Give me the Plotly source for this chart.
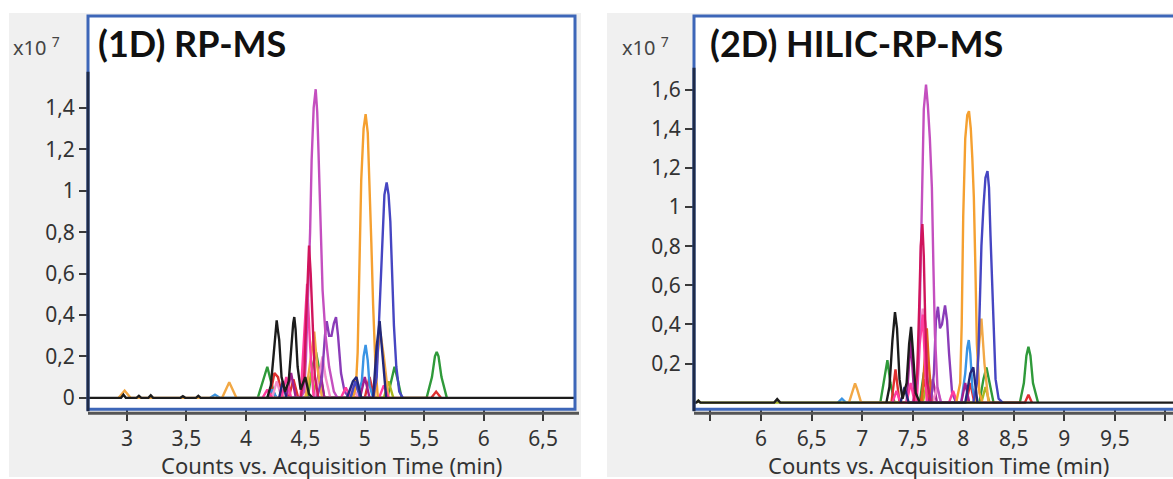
import plotly.graph_objects as go

W, H = 1173, 479

# ---------------- data: (1D) RP-MS panel (time in min, counts in 1e7) ----------------
rp_x_ticks = [3, 3.5, 4, 4.5, 5, 5.5, 6, 6.5]
rp_x_labels = ["3", "3,5", "4", "4,5", "5", "5,5", "6", "6,5"]
rp_y_ticks = [0, 0.2, 0.4, 0.6, 0.8, 1, 1.2, 1.4]
rp_y_labels = ["0", "0,2", "0,4", "0,6", "0,8", "1", "1,2", "1,4"]

rp_base_t = [2.67, 2.95, 2.97, 2.99, 3.08, 3.10, 3.12, 3.18, 3.20, 3.22, 3.45, 3.47, 3.49, 3.58, 3.60, 3.62, 6.77]
rp_base_i = [0, 0, 0.015, 0, 0, 0.01, 0, 0, 0.012, 0, 0, 0.008, 0, 0, 0.01, 0, 0]

rp_black_t = [4.18, 4.21, 4.235, 4.25, 4.259, 4.268, 4.28, 4.30, 4.33, 4.36, 4.385, 4.398, 4.407, 4.418, 4.435, 4.46, 4.50, 4.53, 4.56]
rp_black_i = [0, 0.06, 0.22, 0.33, 0.374, 0.33, 0.28, 0.1, 0.03, 0.08, 0.28, 0.36, 0.39, 0.33, 0.15, 0.04, 0.1, 0.02, 0]

rp_navy_t = [4.28, 4.31, 4.34, 4.85, 4.90, 4.93, 4.97, 5.07, 5.10, 5.125, 5.15, 5.18]
rp_navy_i = [0, 0.08, 0, 0, 0.08, 0.1, 0, 0, 0.25, 0.37, 0.2, 0]

rp_green_t = [4.10, 4.15, 4.18, 4.21, 4.25, 4.52, 4.56, 4.59, 4.62, 4.66, 5.19, 5.23, 5.25, 5.28, 5.31, 5.52, 5.565, 5.59, 5.605, 5.62, 5.645, 5.69]
rp_green_i = [0, 0.1, 0.15, 0.08, 0, 0, 0.15, 0.22, 0.12, 0, 0, 0.1, 0.15, 0.08, 0, 0, 0.1, 0.2, 0.222, 0.2, 0.1, 0]

rp_red_t = [4.20, 4.24, 4.27, 4.31, 4.36, 4.40, 4.44, 5.00, 5.04, 5.08, 5.56, 5.60, 5.64]
rp_red_i = [0, 0.12, 0.1, 0, 0, 0.09, 0, 0, 0.1, 0, 0, 0.03, 0]

rp_ltblue_t = [3.70, 3.74, 3.78, 4.18, 4.22, 4.26, 4.88, 4.92, 4.95, 4.975, 4.99, 5.007, 5.025, 5.04, 5.07]
rp_ltblue_i = [0, 0.015, 0, 0, 0.04, 0, 0, 0.06, 0.03, 0.08, 0.2, 0.255, 0.18, 0.06, 0]

rp_orange_t = [4.90, 4.925, 4.94, 4.955, 4.97, 4.99, 5.007, 5.025, 5.04, 5.055, 5.07, 5.09, 5.11]
rp_orange_i = [0, 0.05, 0.22, 0.65, 1.05, 1.30, 1.37, 1.28, 1.05, 0.75, 0.45, 0.15, 0]

rp_orange2_t = [2.93, 2.98, 3.03, 3.80, 3.86, 3.92, 4.50, 4.55, 4.575, 4.60, 4.64, 5.08, 5.11, 5.13, 5.16, 5.20]
rp_orange2_i = [0, 0.035, 0, 0, 0.075, 0, 0, 0.2, 0.32, 0.15, 0, 0, 0.22, 0.32, 0.2, 0]

rp_crimson_t = [4.46, 4.49, 4.505, 4.52, 4.531, 4.545, 4.56, 4.58, 4.61]
rp_crimson_i = [0, 0.1, 0.35, 0.62, 0.735, 0.6, 0.35, 0.1, 0]

rp_hotpink_t = [4.14, 4.18, 4.22, 4.30, 4.34, 4.38, 4.46, 4.49, 4.515, 4.54, 4.57, 4.80, 4.84, 4.88, 5.12, 5.16, 5.20]
rp_hotpink_i = [0, 0.04, 0, 0, 0.1, 0, 0, 0.3, 0.55, 0.25, 0, 0, 0.05, 0, 0, 0.06, 0]

rp_orchid_t = [4.46, 4.49, 4.505, 4.525, 4.54, 4.553, 4.57, 4.587, 4.60, 4.61, 4.625, 4.645, 4.67, 4.70, 4.74, 4.77]
rp_orchid_i = [0, 0.03, 0.19, 0.51, 0.8, 1.15, 1.4, 1.49, 1.38, 1.2, 0.9, 0.52, 0.3, 0.15, 0.03, 0]

rp_purple_t = [4.60, 4.64, 4.665, 4.68, 4.70, 4.72, 4.74, 4.758, 4.775, 4.80, 4.83, 4.87]
rp_purple_i = [0, 0.1, 0.3, 0.37, 0.3, 0.3, 0.36, 0.39, 0.3, 0.12, 0.03, 0]

rp_blue_t = [4.88, 4.92, 4.96, 5.07, 5.10, 5.115, 5.13, 5.15, 5.165, 5.184, 5.20, 5.215, 5.23, 5.245, 5.265, 5.29, 5.32]
rp_blue_i = [0, 0.08, 0, 0, 0.1, 0.3, 0.52, 0.83, 0.98, 1.04, 0.98, 0.85, 0.6, 0.35, 0.15, 0.03, 0]

rp_dkmag_t = [4.34, 4.38, 4.42, 4.58, 4.62, 4.66, 4.96, 5.00, 5.04]
rp_dkmag_i = [0, 0.12, 0, 0, 0.15, 0, 0, 0.1, 0]

rp_lime_t = [4.51, 4.55, 4.59, 5.16, 5.20, 5.24]
rp_lime_i = [0, 0.12, 0, 0, 0.08, 0]

rp_ltpink_t = [4.22, 4.26, 4.30, 4.58, 4.62, 4.645, 4.67, 4.71, 4.86, 4.90, 4.94]
rp_ltpink_i = [0, 0.08, 0, 0, 0.12, 0.2, 0.1, 0, 0, 0.06, 0]

# ---------------- data: (2D) HILIC-RP-MS panel ----------------
hr_x_ticks = [6, 6.5, 7, 7.5, 8, 8.5, 9, 9.5]
hr_x_labels = ["6", "6,5", "7", "7,5", "8", "8,5", "9", "9,5"]
hr_x_minor = [5.5, 10]
hr_y_ticks = [0.2, 0.4, 0.6, 0.8, 1, 1.2, 1.4, 1.6]
hr_y_labels = ["0,2", "0,4", "0,6", "0,8", "1", "1,2", "1,4", "1,6"]

hr_base_t = [5.34, 5.36, 5.38, 5.40, 6.13, 6.16, 6.19, 10.1]
hr_base_i = [0, 0, 0.01, 0, 0, 0.018, 0, 0]

hr_black_t = [7.24, 7.27, 7.30, 7.325, 7.345, 7.37, 7.40, 7.44, 7.465, 7.484, 7.50, 7.53, 7.57]
hr_black_i = [0, 0.08, 0.32, 0.463, 0.38, 0.12, 0.02, 0.1, 0.3, 0.387, 0.28, 0.05, 0]

hr_navy_t = [7.38, 7.42, 7.46, 8.02, 8.07, 8.10, 8.14]
hr_navy_i = [0, 0.08, 0, 0, 0.15, 0.18, 0]

hr_green_t = [7.18, 7.22, 7.25, 7.28, 7.32, 7.57, 7.61, 7.64, 7.68, 8.16, 8.20, 8.23, 8.26, 8.30, 8.56, 8.60, 8.625, 8.645, 8.665, 8.69, 8.74]
hr_green_i = [0, 0.12, 0.217, 0.1, 0, 0, 0.15, 0.2, 0, 0, 0.12, 0.18, 0.1, 0, 0, 0.1, 0.24, 0.285, 0.24, 0.1, 0]

hr_red_t = [7.29, 7.33, 7.37, 7.58, 7.62, 7.66, 8.03, 8.07, 8.11, 8.61, 8.645, 8.68]
hr_red_i = [0, 0.17, 0, 0, 0.12, 0, 0, 0.1, 0, 0, 0.04, 0]

hr_ltblue_t = [6.76, 6.80, 6.84, 7.98, 8.02, 8.04, 8.055, 8.07, 8.09, 8.12]
hr_ltblue_i = [0, 0.02, 0, 0, 0.15, 0.28, 0.32, 0.25, 0.08, 0]

hr_orange_t = [7.93, 7.97, 7.985, 8.0, 8.02, 8.04, 8.057, 8.075, 8.09, 8.105, 8.12, 8.135, 8.16, 8.19]
hr_orange_i = [0, 0.1, 0.4, 0.95, 1.35, 1.47, 1.49, 1.4, 1.25, 1.05, 0.7, 0.3, 0.05, 0]

hr_orange2_t = [6.87, 6.91, 6.93, 6.95, 6.99, 8.12, 8.15, 8.18, 8.21, 8.25]
hr_orange2_i = [0, 0.07, 0.098, 0.07, 0, 0, 0.25, 0.43, 0.2, 0]

hr_dkorange_t = [7.59, 7.62, 7.64, 7.66, 7.69]
hr_dkorange_i = [0, 0.25, 0.38, 0.2, 0]

hr_crimson_t = [7.51, 7.545, 7.565, 7.58, 7.596, 7.61, 7.625, 7.645, 7.68]
hr_crimson_i = [0, 0.15, 0.5, 0.8, 0.913, 0.75, 0.4, 0.1, 0]

hr_hotpink_t = [7.30, 7.34, 7.38, 7.44, 7.48, 7.52, 7.54, 7.57, 7.60, 7.64, 7.86, 7.90, 7.94]
hr_hotpink_i = [0, 0.06, 0, 0, 0.1, 0, 0, 0.3, 0.45, 0, 0, 0.06, 0]

hr_ltpink_t = [7.53, 7.56, 7.60, 7.63, 7.66, 7.70, 7.74, 7.78]
hr_ltpink_i = [0, 0.3, 0.48, 0.4, 0.15, 0, 0.08, 0]

hr_orchid_t = [7.50, 7.545, 7.565, 7.58, 7.595, 7.61, 7.632, 7.65, 7.67, 7.69, 7.705, 7.72, 7.745, 7.78]
hr_orchid_i = [0, 0.1, 0.35, 0.8, 1.25, 1.5, 1.626, 1.52, 1.35, 1.1, 0.7, 0.35, 0.08, 0]

hr_purple_t = [7.68, 7.71, 7.73, 7.75, 7.77, 7.79, 7.82, 7.84, 7.86, 7.89, 7.93]
hr_purple_i = [0, 0.15, 0.42, 0.49, 0.38, 0.4, 0.497, 0.42, 0.25, 0.05, 0]

hr_blue_t = [8.10, 8.135, 8.15, 8.165, 8.18, 8.20, 8.22, 8.24, 8.255, 8.27, 8.285, 8.30, 8.32, 8.35, 8.39]
hr_blue_i = [0, 0.1, 0.25, 0.55, 0.8, 1.0, 1.15, 1.184, 1.1, 0.85, 0.6, 0.35, 0.12, 0.02, 0]

hr_dkmag_t = [7.44, 7.48, 7.52, 7.66, 7.70, 7.74, 7.98, 8.02, 8.06]
hr_dkmag_i = [0, 0.33, 0, 0, 0.12, 0, 0, 0.1, 0]

hr_lime_t = [5.36, 5.38, 5.40, 7.60, 7.64, 7.68, 8.18, 8.22, 8.26]
hr_lime_i = [0, 0.01, 0, 0, 0.1, 0, 0, 0.08, 0]

# ---------------- styling ----------------
colors = {
    "base": "#1c1c1c", "black": "#1c1c1c", "navy": "#23287a", "green": "#2f9a3a",
    "red": "#e03030", "ltblue": "#3a94e4", "orange": "#f5a030", "orange2": "#f2a845",
    "dkorange": "#e0661a", "crimson": "#d0145c", "hotpink": "#ff3c9e", "ltpink": "#f290cc",
    "orchid": "#c44fbf", "purple": "#8a3cb8", "blue": "#4646c2", "dkmag": "#a0208f",
    "lime": "#a8b820",
}

rp_series = [
    ("green", rp_green_t, rp_green_i), ("red", rp_red_t, rp_red_i),
    ("ltblue", rp_ltblue_t, rp_ltblue_i), ("lime", rp_lime_t, rp_lime_i), ("dkmag", rp_dkmag_t, rp_dkmag_i),
    ("ltpink", rp_ltpink_t, rp_ltpink_i), ("orange2", rp_orange2_t, rp_orange2_i),
    ("purple", rp_purple_t, rp_purple_i), ("hotpink", rp_hotpink_t, rp_hotpink_i),
    ("orchid", rp_orchid_t, rp_orchid_i), ("crimson", rp_crimson_t, rp_crimson_i),
    ("orange", rp_orange_t, rp_orange_i), ("blue", rp_blue_t, rp_blue_i),
    ("navy", rp_navy_t, rp_navy_i), ("black", rp_black_t, rp_black_i),
    ("base", rp_base_t, rp_base_i),
]
hr_series = [
    ("green", hr_green_t, hr_green_i), ("red", hr_red_t, hr_red_i),
    ("ltblue", hr_ltblue_t, hr_ltblue_i), ("lime", hr_lime_t, hr_lime_i), ("dkmag", hr_dkmag_t, hr_dkmag_i),
    ("ltpink", hr_ltpink_t, hr_ltpink_i), ("orange2", hr_orange2_t, hr_orange2_i),
    ("dkorange", hr_dkorange_t, hr_dkorange_i),
    ("purple", hr_purple_t, hr_purple_i), ("hotpink", hr_hotpink_t, hr_hotpink_i),
    ("orchid", hr_orchid_t, hr_orchid_i), ("crimson", hr_crimson_t, hr_crimson_i),
    ("orange", hr_orange_t, hr_orange_i), ("blue", hr_blue_t, hr_blue_i),
    ("navy", hr_navy_t, hr_navy_i), ("black", hr_black_t, hr_black_i),
    ("base", hr_base_t, hr_base_i),
]

def px(x):
    return x / W

def py(y):
    return 1 - y / H

fig = go.Figure()
for name, t, i in rp_series:
    fig.add_trace(go.Scatter(x=t, y=i, mode="lines", xaxis="x", yaxis="y",
                             line=dict(color=colors[name], width=2.4), showlegend=False, hoverinfo="skip"))
for name, t, i in hr_series:
    fig.add_trace(go.Scatter(x=t, y=i, mode="lines", xaxis="x2", yaxis="y2",
                             line=dict(color=colors[name], width=2.4), showlegend=False, hoverinfo="skip"))

tick_font = dict(family="Noto Sans, Open Sans, sans-serif", size=21, color="#333333")
ax_common = dict(showgrid=False, zeroline=False, showline=False, ticks="outside",
                 tickwidth=2, tickcolor="#3a3a3a", tickfont=tick_font, fixedrange=True)

# panel pixel geometry
L1, R1, T1, B1 = 88, 575, 16, 411
L2, R2, T2, B2 = 694, 1173, 16, 411

fig.update_layout(
    width=W, height=H, margin=dict(l=0, r=0, t=0, b=0),
    paper_bgcolor="white", plot_bgcolor="rgba(0,0,0,0)",
    xaxis=dict(domain=[px(L1), px(R1)], range=[2.672, 6.768], anchor="y",
               tickvals=rp_x_ticks, ticktext=rp_x_labels, ticklen=11, **ax_common),
    yaxis=dict(domain=[py(B1), py(T1)], range=[-0.0553, 1.844], anchor="x",
               tickvals=rp_y_ticks, ticktext=rp_y_labels, ticklen=8, **ax_common),
    xaxis2=dict(domain=[px(L2), px(R2)], range=[5.337, 10.075], anchor="y2",
                tickvals=hr_x_ticks, ticktext=hr_x_labels, ticklen=11,
                minor=dict(tickvals=hr_x_minor, ticks="outside", ticklen=11, tickwidth=2,
                           tickcolor="#3a3a3a", showgrid=False), **ax_common),
    yaxis2=dict(domain=[py(B2), py(T2)], range=[-0.034, 1.977], anchor="x2",
                tickvals=hr_y_ticks, ticktext=hr_y_labels, ticklen=8, **ax_common),
)

shapes = []
# gray panels and white plot areas
shapes.append(dict(type="rect", xref="paper", yref="paper", x0=px(9), x1=px(581), y0=py(479), y1=py(13),
                   fillcolor="#f0f0f0", line=dict(width=0), layer="below"))
shapes.append(dict(type="rect", xref="paper", yref="paper", x0=px(607), x1=px(1173), y0=py(479), y1=py(13),
                   fillcolor="#f0f0f0", line=dict(width=0), layer="below"))
for (L, R, T, B) in [(L1, R1, T1, B1), (L2, R2 + 4, T2, B2)]:
    shapes.append(dict(type="rect", xref="paper", yref="paper", x0=px(L), x1=px(R), y0=py(B), y1=py(T),
                       fillcolor="white", line=dict(width=0), layer="below"))
    # blue frame
    shapes.append(dict(type="rect", xref="paper", yref="paper", x0=px(L), x1=px(R), y0=py(B), y1=py(T),
                       fillcolor="rgba(0,0,0,0)", line=dict(color="#3d66b8", width=3), layer="above"))
# dark y-axis lines
shapes.append(dict(type="line", xref="paper", yref="paper", x0=px(L1), x1=px(L1), y0=py(B1 + 2), y1=py(72),
                   line=dict(color="#1e2a48", width=3), layer="above"))
shapes.append(dict(type="line", xref="paper", yref="paper", x0=px(L2), x1=px(L2), y0=py(B2 + 2), y1=py(68),
                   line=dict(color="#1e2a48", width=3), layer="above"))
# dark x-axis lines below frame
shapes.append(dict(type="line", xref="paper", yref="paper", x0=px(L1), x1=px(R1 + 4), y0=py(415), y1=py(415),
                   line=dict(color="#555555", width=3), layer="above"))
shapes.append(dict(type="line", xref="paper", yref="paper", x0=px(L2), x1=px(1173), y0=py(415), y1=py(415),
                   line=dict(color="#555555", width=3), layer="above"))
fig.update_layout(shapes=shapes)

ann_font = dict(family="Noto Sans, Open Sans, sans-serif", size=22, color="#333333")
title_font = dict(family="Lato, Open Sans, sans-serif", size=36, color="#111111")
exp_font = dict(family="Noto Sans, Open Sans, sans-serif", size=20, color="#444444")
annotations = [
    dict(text="<b>(1D) RP-MS</b>", x=px(96), y=py(43), xref="paper", yref="paper",
         xanchor="left", yanchor="middle", showarrow=False, font=title_font),
    dict(text="<b>(2D) HILIC-RP-MS</b>", x=px(708), y=py(43), xref="paper", yref="paper",
         xanchor="left", yanchor="middle", showarrow=False, font=title_font),
    dict(text="x10 <sup>7</sup>", x=px(11), y=py(47), xref="paper", yref="paper",
         xanchor="left", yanchor="middle", showarrow=False, font=exp_font),
    dict(text="x10 <sup>7</sup>", x=px(620), y=py(47), xref="paper", yref="paper",
         xanchor="left", yanchor="middle", showarrow=False, font=exp_font),
    dict(text="Counts vs. Acquisition Time (min)", x=px((L1 + R1) / 2), y=py(467), xref="paper", yref="paper",
         xanchor="center", yanchor="middle", showarrow=False, font=ann_font),
    dict(text="Counts vs. Acquisition Time (min)", x=px(938), y=py(467), xref="paper", yref="paper",
         xanchor="center", yanchor="middle", showarrow=False, font=ann_font),
]
fig.update_layout(annotations=annotations)

fig.write_html("out.html", config={"displayModeBar": False},
               post_script="document.body.style.margin='0';document.body.style.overflow='hidden';")
